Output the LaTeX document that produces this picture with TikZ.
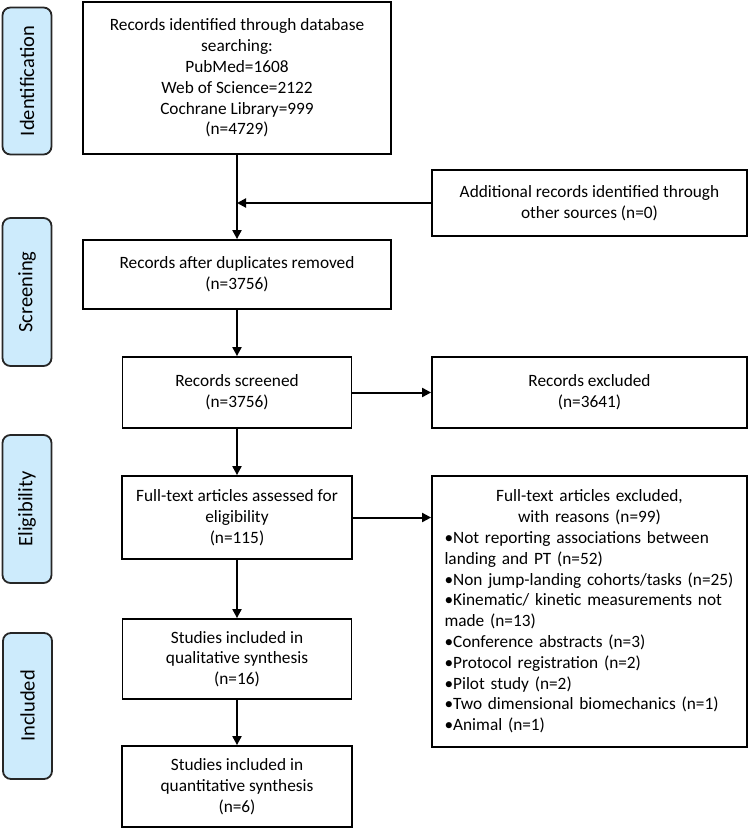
\documentclass[tikz,border=0pt]{standalone}
\usepackage{fontspec}
\setmainfont{Carlito}
\usetikzlibrary{arrows.meta}
\definecolor{sidefill}{RGB}{205,235,252}
\begin{document}
\begin{tikzpicture}[x=1pt,y=1pt,
  box/.style={draw=black, line width=1.8pt, align=center, inner sep=0pt,
    font=\fontsize{17.3}{20.8}\selectfont},
  side/.style={draw=black!85, fill=sidefill, line width=1.8pt, rounded corners=8pt,
    rotate=90, minimum height=49pt, inner sep=0pt, font=\fontsize{20.5}{24}\selectfont},
  arr/.style={line width=2pt, -{Triangle[length=9pt,width=9pt]}}]
\useasboundingbox (0,0) rectangle (749,-835);

% side labels
\node[side, minimum width=147pt] (s1) at (27,-81) {Identification};
\node[side, minimum width=148pt] (s2) at (27,-292) {Screening};
\node[side, minimum width=148pt] (s3) at (27,-509) {Eligibility};
\node[side, minimum width=146pt] (s4) at (27.5,-706) {Included};

% main column
\node[box, minimum width=308pt, minimum height=152pt] (b1) at (237,-78)
  {Records identified through database\\searching:\\PubMed=1608\\Web of Science=2122\\Cochrane Library=999\\(n=4729)};
\node[box, minimum width=308pt, minimum height=69pt] (b2) at (237,-274.5)
  {Records after duplicates removed\\(n=3756)};
\node[box, minimum width=229pt, minimum height=71pt] (b3) at (237,-392.5)
  {Records screened\\(n=3756)};
\node[box, minimum width=230pt, minimum height=83pt] (b4) at (237,-517.5)
  {Full-text articles assessed for\\eligibility\\(n=115)};
\node[box, minimum width=229pt, minimum height=80pt] (b5) at (237,-659)
  {Studies included in\\qualitative synthesis\\(n=16)};
\node[box, minimum width=230pt, minimum height=81pt] (b6) at (237,-786.5)
  {Studies included in\\quantitative synthesis\\(n=6)};

% right column
\node[box, minimum width=315pt, minimum height=66pt] (add) at (589.5,-203)
  {Additional records identified through\\other sources (n=0)};
\node[box, minimum width=315pt, minimum height=71pt] (exc) at (589.5,-392.5)
  {Records excluded\\(n=3641)};
\node[box, minimum width=315pt, minimum height=271pt, text width=290pt, align=left] (rea) at (589.5,-611.5)
  {\makebox[290pt][c]{Full-text articles excluded,}\\
   \makebox[290pt][c]{with reasons (n=99)}\\
   •Not reporting associations between\\
   landing and PT (n=52)\\
   •Non jump-landing cohorts/tasks (n=25)\\
   •Kinematic/ kinetic measurements not\\
   made (n=13)\\
   •Conference abstracts (n=3)\\
   •Protocol registration (n=2)\\
   •Pilot study (n=2)\\
   •Two dimensional biomechanics (n=1)\\
   •Animal (n=1)};

% connectors
\draw[arr] (b1.south) -- (b2.north);
\draw[arr] (add.west) -- (add.west -| b1.south);
\draw[arr] (b2.south) -- (b3.north);
\draw[arr] (b3.east) -- (exc.west);
\draw[arr] (b3.south) -- (b4.north);
\draw[arr] (b4.east) -- (rea.west |- b4.east);
\draw[arr] (b4.south) -- (b5.north);
\draw[arr] (b5.south) -- (b6.north);
\end{tikzpicture}
\end{document}
